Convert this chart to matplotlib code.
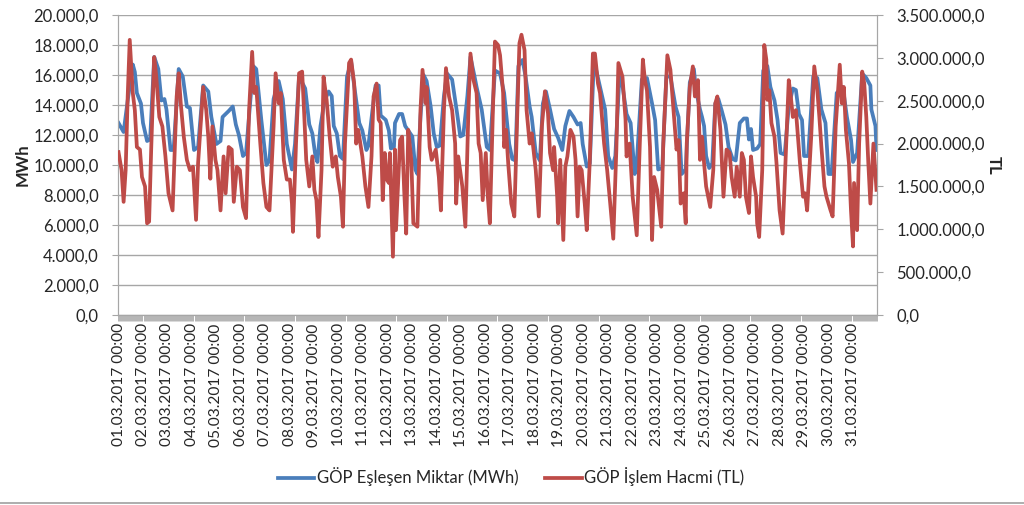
import matplotlib
matplotlib.use("Agg")
import matplotlib.pyplot as plt
from matplotlib.ticker import FixedLocator, FuncFormatter
from matplotlib.lines import Line2D
import pandas as pd

plt.rcParams['font.family'] = ['Lato', 'DejaVu Sans']

# ---- data (hour index from 01.03.2017 00:00) ----
mwh_hours = [0, 5, 9, 14, 16, 18, 22, 24, 28, 31, 35, 39, 42, 45, 47, 51, 54, 59, 63, 67, 70, 74, 78,
             83, 88, 91, 96, 100, 102, 108, 112, 115, 118, 122, 125, 132, 135, 140, 145, 148, 152,
             157, 161, 165, 170, 173, 177, 183, 187, 190, 193, 195, 198, 202, 206, 209, 211, 214,
             217, 220, 224, 228, 231, 236, 239, 243, 245, 249, 252, 255, 257, 262, 265, 267, 270,
             271, 275, 278, 281, 288, 291, 293, 296, 299, 302, 306, 309, 312, 315, 319, 322, 327,
             332, 335, 338, 342, 345, 349, 351, 356, 361, 364, 369, 374, 378, 380, 383, 386, 389,
             392, 396, 399, 403, 405, 409, 413, 416, 419, 423, 427, 431, 435, 438, 442, 446, 450,
             453, 455, 459, 462, 466, 469, 474, 477, 480, 484, 487, 491, 494, 498, 502, 506, 508,
             513, 518, 523, 526, 529, 533, 537, 541, 546, 549, 552, 556, 560, 564, 566, 570, 572,
             574, 576, 579, 582, 585, 588, 591, 595, 598, 602, 605, 609, 613, 616, 618, 620, 622,
             626, 629, 632, 636, 639, 643, 646, 649, 653, 657, 661, 664, 667, 670, 672, 676, 681,
             685, 689, 693, 696, 699, 704, 710, 714, 718, 720, 724, 729, 733, 737, 738, 742, 743]
mwh_values = [12800, 12200, 14300, 16700, 16200, 14800, 14100, 12800, 11600, 11700, 17200, 16400,
              14300, 14400, 13700, 11000, 11000, 16400, 15900, 13900, 13800, 11000, 11200, 15300,
              14900, 13200, 11400, 11600, 13200, 13600, 13900, 12700, 12000, 10600, 10800, 16600,
              16400, 13000, 10000, 10300, 14400, 15600, 14400, 11400, 9700, 11400, 15900, 15100,
              12700, 12100, 10600, 10200, 12600, 14300, 14900, 14600, 12600, 12100, 10600, 10400,
              15900, 16900, 15300, 12800, 12300, 11000, 11300, 13700, 15300, 15300, 13300, 13000,
              12300, 11100, 11200, 12800, 13400, 13400, 12600, 11900, 9700, 9400, 13200, 16000,
              15600, 13900, 12100, 11200, 11300, 14600, 16100, 15700, 13400, 11900, 12000, 14600,
              17200, 15900, 15200, 13700, 11200, 11000, 16300, 16100, 14800, 13400, 11400, 10400,
              10300, 16600, 17000, 15900, 13900, 13200, 10800, 10300, 14100, 14900, 13700, 12400,
              11800, 11000, 12600, 13600, 13200, 12700, 12800, 11400, 9900, 10100, 17000, 16100,
              14600, 13700, 10600, 9800, 10600, 15900, 15300, 13400, 12800, 9400, 10100, 15700,
              15800, 14100, 13000, 9700, 9800, 15900, 15900, 13900, 13200, 9400, 9700, 15500,
              16400, 15000, 13700, 13200, 12600, 10600, 9800, 10100, 14100, 14400, 13700, 12700,
              11200, 10400, 10300, 12800, 13100, 13100, 11700, 12400, 11000, 11100, 11400, 16300,
              16600, 15200, 14300, 13000, 10800, 10700, 13900, 15100, 15000, 13400, 13000, 10600,
              10600, 15900, 15800, 13700, 12800, 9400, 9400, 14800, 15200, 13200, 11700, 10200,
              10800, 16100, 15800, 15300, 13700, 12600, 11000]

tl_hours = [0, 3, 5, 7, 9, 11, 14, 16, 18, 21, 23, 26, 28, 30, 32, 35, 37, 40, 43, 46, 49, 53, 57,
            59, 61, 64, 67, 70, 73, 76, 78, 83, 86, 88, 90, 92, 95, 97, 100, 103, 105, 108, 111,
            113, 116, 119, 122, 125, 128, 131, 133, 135, 139, 142, 145, 148, 152, 154, 157, 159,
            162, 165, 168, 170, 171, 174, 177, 180, 182, 184, 187, 190, 192, 194, 196, 199, 201,
            204, 207, 210, 213, 215, 218, 220, 222, 226, 228, 231, 233, 235, 239, 242, 245, 248,
            250, 253, 255, 257, 259, 261, 263, 265, 266, 269, 271, 272, 276, 278, 280, 282, 284,
            287, 289, 293, 296, 298, 301, 302, 305, 307, 311, 314, 316, 319, 321, 324, 327, 330,
            331, 333, 337, 340, 343, 345, 348, 351, 353, 355, 357, 360, 362, 364, 367, 369, 372,
            374, 377, 378, 380, 382, 385, 388, 391, 393, 395, 398, 400, 403, 405, 409, 412, 415,
            418, 421, 423, 426, 427, 430, 431, 433, 436, 438, 440, 443, 446, 448, 450, 452, 454,
            457, 459, 462, 465, 467, 470, 472, 476, 479, 482, 485, 488, 490, 494, 497, 498, 501,
            504, 508, 511, 514, 516, 518, 521, 523, 525, 528, 532, 534, 538, 541, 544, 547, 549,
            551, 554, 556, 557, 560, 563, 565, 568, 570, 572, 574, 576, 580, 583, 585, 587, 590,
            593, 596, 599, 601, 604, 606, 609, 611, 613, 615, 618, 620, 622, 625, 626, 628, 631,
            633, 635, 636, 638, 640, 643, 645, 648, 651, 654, 657, 659, 661, 664, 668, 671, 673,
            675, 679, 682, 685, 687, 689, 692, 694, 698, 700, 703, 707, 709, 711, 713, 716, 718,
            720, 721, 724, 726, 729, 731, 733, 735, 737, 740, 743]
tl_values_m = [1.90, 1.69, 1.32, 1.69, 2.55, 3.21, 2.59, 2.39, 1.96, 1.93, 1.61, 1.50, 1.07, 1.09,
               1.92, 3.01, 2.78, 2.31, 2.20, 1.85, 1.42, 1.22, 2.55, 2.82, 2.47, 2.08, 1.81, 1.69,
               1.73, 1.11, 1.77, 2.66, 2.39, 2.08, 1.59, 2.20, 1.81, 1.69, 1.22, 1.85, 1.42, 1.96,
               1.93, 1.32, 1.73, 1.69, 1.26, 1.13, 2.39, 3.07, 2.59, 2.66, 2.00, 1.54, 1.26, 1.22,
               2.20, 2.82, 2.47, 2.59, 1.81, 1.58, 1.58, 1.30, 0.97, 2.00, 2.82, 2.84, 2.35, 1.81,
               1.50, 1.85, 1.46, 1.34, 0.91, 1.69, 2.78, 2.51, 2.08, 1.73, 1.85, 1.61, 1.38, 1.03,
               2.00, 2.94, 2.98, 2.70, 2.00, 2.16, 1.85, 1.50, 1.26, 1.85, 2.55, 2.70, 2.28, 2.24,
               1.34, 1.89, 1.58, 1.54, 1.89, 0.68, 1.93, 0.99, 2.04, 2.08, 1.46, 0.95, 2.16, 1.81,
               1.07, 1.03, 2.39, 2.86, 2.47, 2.66, 1.96, 1.81, 1.93, 1.61, 1.22, 2.39, 2.88, 2.55,
               2.39, 2.00, 1.30, 1.85, 1.50, 1.03, 2.39, 3.05, 2.74, 2.59, 2.00, 1.89, 1.34, 1.89,
               1.38, 1.07, 2.39, 3.19, 3.15, 3.03, 2.59, 1.96, 2.16, 1.77, 1.30, 1.15, 2.39, 3.17,
               3.27, 3.09, 2.39, 2.00, 2.12, 1.69, 1.15, 2.20, 2.61, 2.35, 1.89, 1.69, 1.96, 1.38,
               1.07, 1.81, 0.875, 1.73, 1.85, 2.16, 2.08, 1.81, 1.15, 1.73, 1.69, 1.30, 0.99, 1.81,
               3.05, 3.05, 2.70, 2.59, 2.00, 1.69, 1.30, 0.89, 1.93, 2.94, 2.78, 2.28, 1.85, 2.00,
               1.38, 0.93, 2.00, 2.98, 2.74, 2.62, 1.96, 0.875, 1.61, 1.46, 1.03, 2.00, 3.03, 2.86,
               2.39, 1.93, 2.04, 1.30, 1.42, 1.07, 2.00, 2.66, 2.90, 2.55, 2.74, 1.81, 2.08, 1.77,
               1.50, 1.26, 1.69, 2.47, 2.55, 2.16, 1.38, 1.93, 1.89, 1.61, 1.38, 1.73, 1.38, 1.89,
               1.81, 1.38, 1.19, 1.85, 1.61, 1.38, 1.07, 0.91, 1.69, 3.15, 2.98, 2.51, 2.62, 2.24,
               2.08, 1.77, 1.22, 0.95, 1.85, 2.74, 2.55, 2.31, 2.39, 1.77, 1.38, 1.42, 1.22, 2.08,
               2.90, 2.62, 2.31, 1.96, 1.50, 1.38, 1.22, 1.15, 2.20, 2.92, 2.47, 2.66, 2.16, 1.77,
               1.22, 0.80, 1.54, 0.99, 2.00, 2.84, 2.70, 2.31, 1.77, 1.30, 2.00, 1.46]
tl_values = [v * 1e6 for v in tl_values_m]

n_hours = 744
day_labels = pd.date_range('2017-03-01', periods=31, freq='D').strftime('%d.%m.%Y %H:%M').tolist()
series_names = ['GÖP Eşleşen Miktar (MWh)', 'GÖP İşlem Hacmi (TL)']

BLUE = '#4A7EBB'
RED = '#BE4B48'
GRID = '#A6A6A6'
AXIS = '#A6A6A6'
TXT = '#262626'


def tr_fmt(v, _pos=None):
    s = f"{v:,.1f}"
    return s.replace(',', 'X').replace('.', ',').replace('X', '.')


fig = plt.figure(figsize=(10.24, 5.05), dpi=100)
ax = fig.add_axes([118 / 1024, 1 - 315 / 505, (877 - 118) / 1024, 300 / 505])
ax2 = ax.twinx()

ax.plot(mwh_hours, mwh_values, color=BLUE, lw=2.7, solid_joinstyle='round', zorder=3)
ax2.plot(tl_hours, tl_values, color=RED, lw=2.7, solid_joinstyle='round', zorder=3)

ax.set_xlim(-0.5, n_hours - 0.5)
ax.set_ylim(0, 20000)
ax2.set_ylim(0, 3500000)
ax.yaxis.set_major_locator(FixedLocator([i * 2000 for i in range(11)]))
ax2.yaxis.set_major_locator(FixedLocator([i * 500000 for i in range(8)]))
ax.yaxis.set_major_formatter(FuncFormatter(tr_fmt))
ax2.yaxis.set_major_formatter(FuncFormatter(tr_fmt))

ax.set_xticks([d * 24 for d in range(31)])
ax.set_xticklabels(day_labels, rotation=90, fontsize=11.2, color=TXT)
ax.set_xticks([h - 0.5 for h in range(n_hours + 1)], minor=True)
ax.tick_params(axis='x', which='major', length=0, pad=6)
ax.tick_params(axis='x', which='minor', length=4, width=0.6, color='#A8A8A8', direction='out')

ax.tick_params(axis='y', length=4, width=0.8, color=AXIS, labelsize=12, labelcolor=TXT, pad=10)
ax2.tick_params(axis='y', length=4, width=0.8, color=AXIS, labelsize=12, labelcolor=TXT, pad=10)

ax.grid(axis='y', color=GRID, lw=1.0)
ax.set_axisbelow(True)
for a in (ax, ax2):
    a.spines['top'].set_visible(False)
    a.spines['left'].set_color(AXIS)
    a.spines['right'].set_color(AXIS)
    a.spines['bottom'].set_color(AXIS)

ax.set_ylabel('MWh', fontsize=12, fontweight='bold', color=TXT, labelpad=2)
ax2.set_ylabel('TL', fontsize=12, fontweight='bold', color=TXT, rotation=270, labelpad=12)

handles = [Line2D([0], [0], color=BLUE, lw=2.7), Line2D([0], [0], color=RED, lw=2.7)]
fig.legend(handles, series_names, loc='center', bbox_to_anchor=(511 / 1024, 1 - 477 / 505),
           ncol=2, frameon=False, fontsize=12, handlelength=2.2, handletextpad=0.15,
           columnspacing=1.6, labelcolor=TXT)

fig.add_artist(Line2D([0, 1], [1 - 503 / 505, 1 - 503 / 505], color='#A0A0A0', lw=1.2))

fig.savefig('out.png', dpi=100)
